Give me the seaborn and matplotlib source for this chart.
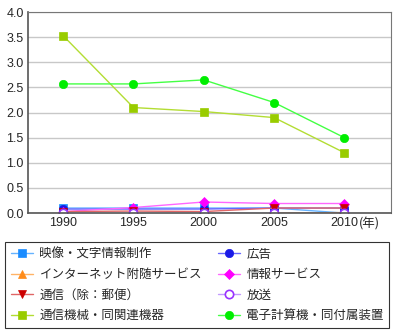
import matplotlib
matplotlib.use("Agg")
import matplotlib.pyplot as plt
import seaborn as sns
import numpy as np

sns.set_style("white")
plt.rcParams['font.family'] = ['Noto Sans CJK JP', 'DejaVu Sans']

years = [1990, 1995, 2000, 2005, 2010]
names = ["映像・文字情報制作", "広告", "インターネット附随サービス", "情報サービス",
         "通信（除：郵便）", "放送", "通信機械・同関連機器", "電子計算機・同付属装置"]
v_eizo = [0.10, 0.10, 0.10, 0.10, 0.00]
v_kokoku = [0.08, 0.08, 0.08, 0.10, 0.10]
v_net = [np.nan, np.nan, np.nan, 0.00, 0.01]
v_joho = [0.03, 0.11, 0.22, 0.19, 0.19]
v_tsushin = [0.03, 0.04, 0.03, 0.10, 0.10]
v_hoso = [0.00, 0.00, 0.00, 0.00, 0.00]
v_kiki = [3.53, 2.10, 2.02, 1.90, 1.20]
v_keisan = [2.57, 2.57, 2.65, 2.20, 1.50]
values = [v_eizo, v_kokoku, v_net, v_joho, v_tsushin, v_hoso, v_kiki, v_keisan]
yticks = [0.0, 0.5, 1.0, 1.5, 2.0, 2.5, 3.0, 3.5, 4.0]

colors = ["#1a8cff", "#1a1ae6", "#ff8c1a", "#ff00ff", "#cc0000", "#9933ff", "#99cc00", "#00ee00"]
markers = ["s", "o", "^", "D", "v", "o", "s", "o"]
lcolors = ["#66b3ff", "#6666ff", "#ffb366", "#ff66ff", "#e06666", "#c299ff", "#b3dd33", "#44ff44"]

fig = plt.figure(figsize=(3.94, 3.35), dpi=100)
ax = fig.add_axes([0.071, 0.364, 0.921, 0.600])

for i, (n, v) in enumerate(zip(names, values)):
    mfc = "white" if i == 5 else colors[i]
    sns.lineplot(x=years, y=v, ax=ax, color=lcolors[i], linewidth=1.0,
                 marker=markers[i], markersize=6 if markers[i] != "D" else 5,
                 markerfacecolor=mfc, markeredgecolor=colors[i], markeredgewidth=1.2 if i == 5 else 0.5,
                 label=n)

ax.set_xlim(1987.5, 2013.3)
ax.set_ylim(0, 4.0)
ax.set_xticks(years)
ax.set_xticklabels([str(y) for y in years])
ax.set_yticks(yticks)
ax.set_yticklabels([f"{t:.1f}" for t in yticks])
ax.yaxis.grid(True, color="#c8c8c8", linewidth=1.0)
ax.set_axisbelow(True)
ax.tick_params(axis='both', labelsize=9, length=0, pad=3)
for lab in ax.get_xticklabels() + ax.get_yticklabels():
    lab.set_family(['Liberation Sans', 'Noto Sans CJK JP'])
for s in ["left", "bottom"]:
    ax.spines[s].set_color("#555555")
    ax.spines[s].set_linewidth(1.2)
for s in ["top", "right"]:
    ax.spines[s].set_color("#777777")
    ax.spines[s].set_linewidth(0.8)
ax.annotate("(年)", xy=(2010, 0), xycoords="data", xytext=(10.5, -3), textcoords="offset points",
            fontsize=9, ha="left", va="top", annotation_clip=False)

handles, labels = ax.get_legend_handles_labels()
if ax.get_legend():
    ax.get_legend().remove()
order = [0, 2, 4, 6, 1, 3, 5, 7]
leg = fig.legend([handles[i] for i in order], [labels[i] for i in order], ncol=2,
                 loc="lower left", bbox_to_anchor=(0.013, 0.021, 0.975, 0.248), mode="expand",
                 frameon=True, fancybox=False, fontsize=9, handlelength=1.8,
                 borderaxespad=0, borderpad=0.45, labelspacing=0.6, handletextpad=0.5, columnspacing=0.8)
leg.get_frame().set_edgecolor("black")
leg.get_frame().set_linewidth(0.8)

fig.savefig("out.png", dpi=100)
